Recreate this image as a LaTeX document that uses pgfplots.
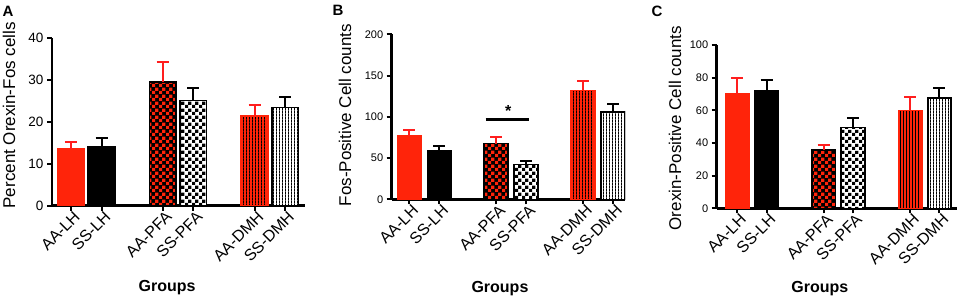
\documentclass[border=0pt]{standalone}
\usepackage{fontspec}
\setmainfont{Liberation Sans}
\usepackage{pgfplots}
\pgfplotsset{compat=1.18}
\usetikzlibrary{patterns.meta}
\definecolor{myred}{RGB}{255,36,10}
\definecolor{errred}{RGB}{255,30,30}

\tikzdeclarepattern{name=chk, type=uncolored, bottom left={(0pt,0pt)}, top right={(6.6pt,6.6pt)}, tile size={(6.6pt,6.6pt)},
  code={\pgfpathrectangle{\pgfpointorigin}{\pgfqpoint{3.3pt}{3.3pt}}\pgfpathrectangle{\pgfqpoint{3.3pt}{3.3pt}}{\pgfqpoint{3.3pt}{3.3pt}}\pgfusepath{fill}}}
\tikzdeclarepattern{name=vst, type=uncolored, bottom left={(0pt,0pt)}, top right={(3.3pt,3.3pt)}, tile size={(3.3pt,3.3pt)},
  code={\pgfpathrectangle{\pgfpointorigin}{\pgfqpoint{1.1pt}{3.3pt}}\pgfusepath{fill}}}

\pgfplotsset{
 panel/.style={scale only axis, anchor=south west, axis lines*=left,
   axis line style={line width=2.5pt,-},
   tick align=outside, major tick length=5pt, tick style={line width=2pt,black},
   ymin=0, xticklabels={AA-LH,SS-LH,AA-PFA,SS-PFA,AA-DMH,SS-DMH},
   x tick label style={rotate=45, anchor=north east, font=\fontsize{16}{16}\selectfont, inner sep=1pt, xshift=3pt},
   /pgf/number format/assume math mode=true,
   ylabel style={font=\fontsize{17}{17}\selectfont, anchor=center},
   xlabel={Groups}, xlabel style={font=\bfseries\fontsize{16}{16}\selectfont, anchor=center},
 },
 b/.style={ybar, bar width=#1, line width=1.6pt},
 ebr/.style={error bars/.cd, y dir=plus, y explicit, error bar style={line width=2pt, color=errred}, error mark options={rotate=90, line width=2pt, mark size=6pt, color=errred}},
 ebk/.style={error bars/.cd, y dir=plus, y explicit, error bar style={line width=2pt, color=black}, error mark options={rotate=90, line width=2pt, mark size=6pt, color=black}},
 aalh/.style={b=#1, fill=myred, draw=myred, ebr},
 sslh/.style={b=#1, fill=black, draw=black, ebk},
 aapfa/.style={b=#1, preaction={fill=black}, pattern=chk, pattern color=myred, draw=black, ebr},
 sspfa/.style={b=#1, preaction={fill=white}, pattern=chk, pattern color=black, draw=black, ebk},
 aadmh/.style={b=#1, preaction={fill=myred}, pattern=vst, pattern color=black, draw=myred, ebr},
 ssdmh/.style={b=#1, preaction={fill=white}, pattern=vst, pattern color=black, draw=black, ebk},
}

\begin{document}
\begin{tikzpicture}
\useasboundingbox (0,0) rectangle (960pt,298pt);

% Panel A
\begin{axis}[panel, at={(52pt,92.3pt)}, width=253pt, height=167.4pt,
  xmin=-0.62, xmax=7.65, ymax=40, xtick={0,1,3,4,6,7}, ytick={0,10,20,30,40},
  yticklabel style={font=\fontsize{13.5}{14}\selectfont},
  ylabel={Percent Orexin-Fos cells},
  ylabel style={at={(axis description cs:-0.17,0.54)}},
  xlabel style={at={(axis description cs:0.455,-0.49)}}]
\addplot[aalh=0.87] coordinates {(0,13.5) +- (0,1.7)};
\addplot[sslh=0.87] coordinates {(1,14.1) +- (0,2.1)};
\addplot[aapfa=0.87] coordinates {(3,29.6) +- (0,4.7)};
\addplot[sspfa=0.87] coordinates {(4,25.1) +- (0,3.1)};
\addplot[aadmh=0.87] coordinates {(6,21.5) +- (0,2.5)};
\addplot[ssdmh=0.87] coordinates {(7,23.5) +- (0,2.5)};
\end{axis}

% Panel B
\begin{axis}[panel, at={(391.7pt,98.7pt)}, width=233.3pt, height=165pt,
  xmin=-0.59, xmax=7.2, ymax=200, xtick={0,1,2.9,3.9,5.8,6.8}, ytick={0,50,100,150,200},
  yticklabel style={font=\fontsize{11}{12}\selectfont},
  ylabel={Fos-Positive Cell counts},
  ylabel style={at={(axis description cs:-0.2,0.51)}},
  xlabel style={at={(axis description cs:0.464,-0.54)}}]
\addplot[aalh=0.8] coordinates {(0,76.7) +- (0,7.3)};
\addplot[sslh=0.8] coordinates {(1,59) +- (0,6)};
\addplot[aapfa=0.8] coordinates {(2.9,67.4) +- (0,8)};
\addplot[sspfa=0.8] coordinates {(3.9,42) +- (0,4.5)};
\addplot[aadmh=0.8] coordinates {(5.8,132) +- (0,12)};
\addplot[ssdmh=0.8] coordinates {(6.8,106) +- (0,10)};
\draw[line width=2.5pt] (axis cs:2.55,97) -- (axis cs:4.0,97);
\node[font=\bfseries\fontsize{16}{16}\selectfont, anchor=north] at (axis cs:3.3,118) {*};
\end{axis}

% Panel C
\begin{axis}[panel, at={(716.7pt,89.7pt)}, width=240pt, height=163.3pt,
  xmin=-0.7, xmax=7.49, ymax=100, xtick={0,1,2.95,3.95,5.9,6.9}, ytick={0,20,40,60,80,100},
  yticklabel style={font=\fontsize{11}{12}\selectfont},
  ylabel={Orexin-Positive Cell counts},
  ylabel style={at={(axis description cs:-0.174,0.49)}},
  xlabel style={at={(axis description cs:0.43,-0.49)}}]
\addplot[aalh=0.8] coordinates {(0,70) +- (0,9.6)};
\addplot[sslh=0.8] coordinates {(1,71.8) +- (0,6.6)};
\addplot[aapfa=0.8] coordinates {(2.95,35.7) +- (0,2.9)};
\addplot[sspfa=0.8] coordinates {(3.95,49.6) +- (0,5.5)};
\addplot[aadmh=0.8] coordinates {(5.9,60) +- (0,8.2)};
\addplot[ssdmh=0.8] coordinates {(6.9,67.7) +- (0,6.2)};
\end{axis}

\node[font=\bfseries\fontsize{15}{15}\selectfont] at (8pt,287pt) {A};
\node[font=\bfseries\fontsize{15}{15}\selectfont] at (338pt,288pt) {B};
\node[font=\bfseries\fontsize{15}{15}\selectfont] at (657pt,287pt) {C};
\end{tikzpicture}
\end{document}
